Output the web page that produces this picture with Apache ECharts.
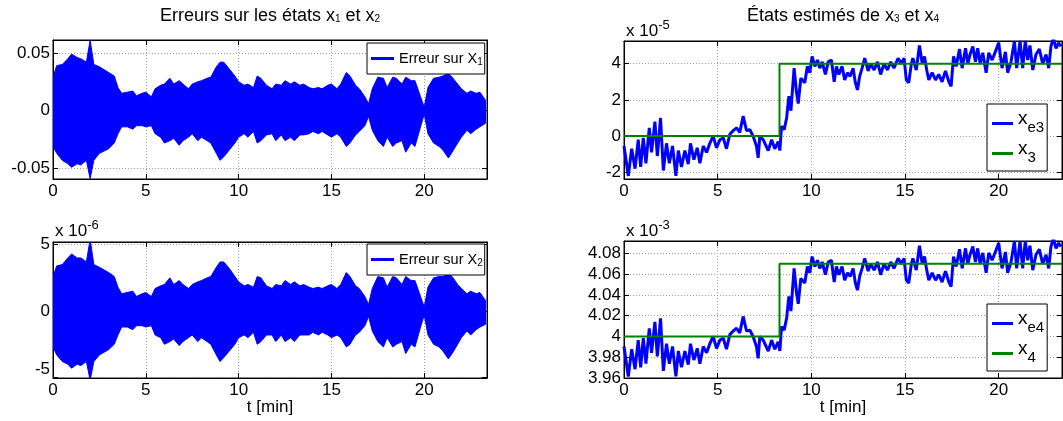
<!DOCTYPE html>
<html><head><meta charset="utf-8">
<script src="https://cdn.jsdelivr.net/npm/echarts@6/dist/echarts.min.js"></script>
<style>html,body{margin:0;padding:0;background:#fff}#c{width:1063px;height:421px}</style>
</head><body><div id="c"></div>
<script>
// ---- data ----
const tErr = [0,0.2,0.5,0.8,1,1.3,1.5,1.8,2,2.2,2.5,3,3.3,3.5,3.7,4,4.3,4.5,4.8,5,5.3,5.5,5.8,6,6.3,6.5,6.8,7,7.3,7.5,7.8,8,8.3,8.5,8.8,9,9.2,9.5,9.8,10,10.3,10.5,10.8,11,11.2,11.5,11.8,12,12.3,12.5,12.8,13,13.3,13.5,13.8,14,14.3,14.5,14.8,15,15.3,15.5,15.8,16,16.3,16.5,16.8,17,17.2,17.5,17.8,18,18.3,18.5,18.8,19,19.3,19.5,19.8,20,20.2,20.5,20.8,21,21.3,21.5,21.8,22,22.3,22.5,22.8,23,23.3];
const err1Upper = [0.029,0.039,0.040,0.045,0.049,0.046,0.045,0.042,0.061,0.040,0.038,0.033,0.030,0.020,0.015,0.016,0.017,0.013,0.015,0.016,0.012,0.019,0.022,0.023,0.028,0.023,0.026,0.023,0.019,0.023,0.025,0.026,0.028,0.029,0.038,0.042,0.042,0.036,0.030,0.025,0.022,0.023,0.020,0.030,0.028,0.022,0.019,0.023,0.022,0.026,0.023,0.025,0.022,0.023,0.020,0.019,0.020,0.019,0.022,0.023,0.019,0.023,0.033,0.030,0.022,0.019,0.012,0.006,0.019,0.029,0.028,0.020,0.029,0.028,0.023,0.029,0.026,0.026,0.012,0.003,0.020,0.028,0.029,0.030,0.032,0.029,0.023,0.019,0.015,0.017,0.015,0.016,0.009];
const err1Lower = [-0.031,-0.037,-0.043,-0.046,-0.049,-0.046,-0.047,-0.043,-0.059,-0.043,-0.037,-0.033,-0.028,-0.020,-0.014,-0.014,-0.016,-0.013,-0.013,-0.014,-0.013,-0.020,-0.023,-0.028,-0.026,-0.024,-0.030,-0.026,-0.023,-0.020,-0.026,-0.023,-0.026,-0.028,-0.037,-0.043,-0.040,-0.034,-0.028,-0.023,-0.020,-0.023,-0.018,-0.028,-0.026,-0.021,-0.020,-0.026,-0.021,-0.026,-0.023,-0.026,-0.021,-0.021,-0.020,-0.018,-0.020,-0.018,-0.021,-0.023,-0.020,-0.023,-0.031,-0.028,-0.021,-0.018,-0.013,-0.005,-0.017,-0.026,-0.031,-0.023,-0.031,-0.028,-0.026,-0.036,-0.028,-0.031,-0.014,-0.003,-0.020,-0.028,-0.031,-0.034,-0.041,-0.036,-0.028,-0.023,-0.017,-0.020,-0.016,-0.014,-0.011];
// units of 1e-6
const err2Upper = [2.6,3.4,3.5,4.0,4.3,4.0,4.0,3.7,5.4,3.5,3.3,2.9,2.6,1.8,1.3,1.4,1.5,1.1,1.3,1.4,1.1,1.7,1.9,2.0,2.5,2.0,2.3,2.0,1.7,2.0,2.2,2.3,2.5,2.6,3.3,3.7,3.7,3.2,2.6,2.2,1.9,2.0,1.8,2.6,2.5,1.9,1.7,2.0,1.9,2.3,2.0,2.2,1.9,2.0,1.8,1.7,1.8,1.7,1.9,2.0,1.7,2.0,2.9,2.6,1.9,1.7,1.1,0.5,1.7,2.6,2.5,1.8,2.6,2.5,2.0,2.6,2.3,2.3,1.1,0.3,1.8,2.5,2.6,2.6,2.8,2.6,2.0,1.7,1.3,1.5,1.3,1.4,0.8];
const err2Lower = [-2.7,-3.3,-3.8,-4.0,-4.3,-4.0,-4.1,-3.8,-5.2,-3.8,-3.3,-2.9,-2.5,-1.8,-1.2,-1.2,-1.4,-1.1,-1.1,-1.2,-1.1,-1.8,-2.0,-2.5,-2.3,-2.1,-2.6,-2.3,-2.0,-1.8,-2.3,-2.0,-2.3,-2.5,-3.3,-3.8,-3.5,-3.0,-2.5,-2.0,-1.8,-2.0,-1.6,-2.5,-2.3,-1.8,-1.8,-2.3,-1.8,-2.3,-2.0,-2.3,-1.8,-1.8,-1.8,-1.6,-1.8,-1.6,-1.8,-2.0,-1.8,-2.0,-2.7,-2.5,-1.8,-1.6,-1.1,-0.4,-1.5,-2.3,-2.7,-2.0,-2.7,-2.5,-2.3,-3.2,-2.5,-2.7,-1.2,-0.3,-1.8,-2.5,-2.7,-3.0,-3.6,-3.2,-2.5,-2.0,-1.5,-1.8,-1.4,-1.2,-1.0];
const tEst = [0.0,0.23,0.41,0.59,0.76,0.89,1.03,1.17,1.35,1.47,1.65,1.78,1.95,2.1,2.27,2.42,2.59,2.77,2.9,3.07,3.25,3.43,3.55,3.73,3.91,4.05,4.23,4.41,4.58,4.76,4.94,5.12,5.3,5.47,5.65,5.83,6.01,6.18,6.36,6.54,6.72,6.89,7.07,7.16,7.25,7.43,7.52,7.70,7.88,8.05,8.23,8.32,8.41,8.55,8.68,8.80,8.91,9.08,9.21,9.30,9.44,9.65,9.79,9.92,10.04,10.19,10.33,10.45,10.58,10.75,10.90,11.07,11.22,11.34,11.47,11.64,11.78,11.93,12.07,12.23,12.35,12.46,12.58,12.71,12.85,13.03,13.17,13.35,13.53,13.70,13.88,14.06,14.24,14.41,14.63,14.81,14.95,15.07,15.20,15.34,15.42,15.60,15.77,15.92,16.04,16.16,16.27,16.45,16.63,16.80,16.98,17.16,17.34,17.46,17.59,17.73,17.91,18.05,18.23,18.35,18.47,18.62,18.76,18.88,19.01,19.15,19.33,19.47,19.65,19.82,20.0,20.18,20.36,20.48,20.66,20.84,20.96,21.14,21.28,21.42,21.55,21.67,21.82,21.99,22.17,22.35,22.53,22.67,22.79,22.92,23.06,23.20,23.33];
// units of 1e-5
const x3Est = [-0.55,-2.2,-0.7,-1.8,-0.2,-1.7,-0.1,-1.5,0.45,-0.9,0.8,-1.1,1.0,-1.9,-0.4,-1.5,-0.55,-2.2,-0.8,-1.7,-0.8,-1.55,-0.4,-1.3,-0.65,-1.5,-0.55,-0.9,-0.4,0,-0.65,-0.2,-0.1,-0.7,0.1,0.3,0.45,0.2,1.1,0.3,0.35,0,-0.55,-1.2,0,-0.2,-0.4,-0.8,-0.2,-0.7,-0.3,-0.8,0.55,0.35,1.0,2.2,1.4,3.75,2.4,1.8,3.2,2.95,3.85,3.5,4.4,3.85,4.2,3.75,4.1,3.4,4.1,4.2,3.0,3.85,3.4,3.85,3.1,3.5,3.3,3.75,2.95,2.55,3.3,3.75,4.3,3.6,4.0,3.65,4.1,3.4,4.0,3.65,4.1,3.75,4.3,4.0,4.3,3.1,2.95,4.0,4.3,3.65,5.0,4.0,4.4,3.65,3.1,3.5,3.1,3.4,3.0,3.6,3.0,2.75,4.4,3.85,4.8,3.75,4.85,4.0,4.5,4.95,4.1,4.85,4.0,4.6,3.5,4.6,4.2,4.65,5.15,3.75,4.65,3.5,4.1,5.25,3.75,5.25,3.75,5.25,4.2,5.0,3.65,4.5,4.8,4.0,4.5,3.75,4.95,5.4,4.85,5.15,4.95];
// units of 1e-3
const x4Est = [3.9904,3.9615,3.9878,3.9685,3.9965,3.9703,3.9983,3.9738,4.0079,3.9843,4.014,3.9808,4.0175,3.9668,3.993,3.9738,3.9904,3.9615,3.986,3.9703,3.986,3.9729,3.993,3.9773,3.9886,3.9738,3.9904,3.9843,3.993,4.0,3.9886,3.9965,3.9983,3.9878,4.0018,4.0053,4.0079,4.0035,4.0193,4.0053,4.0061,4.0,3.9904,3.979,4.0,3.9965,3.993,3.986,3.9965,3.9878,3.9948,3.986,4.0096,4.0061,4.0175,4.0385,4.0245,4.0656,4.042,4.0315,4.056,4.0516,4.0674,4.0613,4.077,4.0674,4.0735,4.0656,4.0718,4.0595,4.0718,4.0735,4.0525,4.0674,4.0595,4.0674,4.0543,4.0613,4.0578,4.0656,4.0516,4.0446,4.0578,4.0656,4.0753,4.063,4.07,4.0639,4.0718,4.0595,4.07,4.0639,4.0718,4.0656,4.0753,4.07,4.0753,4.0543,4.0516,4.07,4.0753,4.0639,4.0875,4.07,4.077,4.0639,4.0543,4.0613,4.0543,4.0595,4.0525,4.063,4.0525,4.0481,4.077,4.0674,4.084,4.0656,4.0849,4.07,4.0788,4.0866,4.0718,4.0849,4.07,4.0805,4.0613,4.0805,4.0735,4.0814,4.0901,4.0656,4.0814,4.0613,4.0718,4.0919,4.0656,4.0919,4.0656,4.0919,4.0735,4.0875,4.0639,4.0788,4.084,4.07,4.0788,4.0656,4.0866,4.0945,4.0849,4.0901,4.0866];
const tStep = [0, 8.3, 23.38];
const x3True = [0, 4, 4];
const x4True = [4.0, 4.07, 4.07];
const xTicks = [0, 5, 10, 15, 20];
const yTicks1 = [-0.05, 0, 0.05];
const yTicks2 = [-5, 0, 5];
const yTicks3 = [-2, 0, 2, 4];
const yTicks4 = [3.96, 3.98, 4.0, 4.02, 4.04, 4.06, 4.08];

// ---- layout / style ----
const FONT = '"Liberation Sans", Arial, sans-serif';
const BLUE = '#0000ff', GREEN = '#008000';
const X_MAX = 23.38;
const grids = [
  {left: 53, top: 40, width: 434, height: 139},
  {left: 53, top: 242, width: 434, height: 136},
  {left: 624, top: 41, width: 438, height: 138},
  {left: 624, top: 241, width: 438, height: 137}
];
const yRanges = [[-0.0592, 0.0612], [-5.04, 5.2], [-2.37, 5.25], [3.96, 4.092]];
const yTickSets = [yTicks1, yTicks2, yTicks3, yTicks4];
const zip = (a, b) => a.map((v, i) => [v, b[i]]);

const xAxes = [], yAxes = [];
const tickStyle = {color: '#000', width: 1};
const gridLine = {show: true, lineStyle: {color: '#9a9a9a', type: [1, 2], width: 1}};
const labelFmt = v => (v === -5 ? '{up|-5}' : String(v));
grids.forEach((g, i) => {
  xAxes.push({type: 'value', gridIndex: i, position: 'bottom', min: 0, max: X_MAX,
    axisLine: {show: true, onZero: false, lineStyle: tickStyle},
    axisTick: {show: true, inside: true, length: 5, customValues: xTicks, lineStyle: tickStyle},
    axisLabel: {show: true, customValues: xTicks, color: '#000', fontSize: 17, fontFamily: FONT, margin: 4},
    splitLine: gridLine});
  xAxes.push({type: 'value', gridIndex: i, position: 'top', min: 0, max: X_MAX,
    axisLine: {show: true, onZero: false, lineStyle: tickStyle},
    axisTick: {show: true, inside: true, length: 5, customValues: xTicks, lineStyle: tickStyle},
    axisLabel: {show: false}, splitLine: {show: false}});
  yAxes.push({type: 'value', gridIndex: i, position: 'left', min: yRanges[i][0], max: yRanges[i][1],
    axisLine: {show: true, onZero: false, lineStyle: tickStyle},
    axisTick: {show: true, inside: true, length: 5, customValues: yTickSets[i], lineStyle: tickStyle},
    axisLabel: {show: true, customValues: yTickSets[i], color: '#000', fontSize: 17, fontFamily: FONT, margin: 3,
      formatter: labelFmt,
      rich: {up: {fontSize: 17, fontFamily: FONT, color: '#000', padding: [0, 0, 16, 0]}}},
    splitLine: gridLine});
  yAxes.push({type: 'value', gridIndex: i, position: 'right', min: yRanges[i][0], max: yRanges[i][1],
    axisLine: {show: true, onZero: false, lineStyle: tickStyle},
    axisTick: {show: true, inside: true, length: 5, customValues: yTickSets[i], lineStyle: tickStyle},
    axisLabel: {show: false}, splitLine: {show: false}});
});

// error signal drawn as the filled band between its upper and lower envelopes
function band(name, gi, up, lo) {
  return {name: name, type: 'custom', xAxisIndex: 2 * gi, yAxisIndex: 2 * gi, color: BLUE, clip: true,
    data: tErr.map((t, i) => [t, up[i], lo[i]]),
    encode: {x: 0, y: [1, 2]},
    renderItem: (params, api) => {
      if (params.dataIndex !== 0) return null;
      const pts = [];
      for (let i = 0; i < tErr.length; i++) pts.push(api.coord([tErr[i], up[i]]));
      for (let i = tErr.length - 1; i >= 0; i--) pts.push(api.coord([tErr[i], lo[i]]));
      return {type: 'polygon', shape: {points: pts}, style: {fill: BLUE, stroke: BLUE, lineWidth: 1}};
    }};
}
const series = [
  band('Erreur sur X1', 0, err1Upper, err1Lower),
  band('Erreur sur X2', 1, err2Upper, err2Lower),
  {name: 'xe3', type: 'line', xAxisIndex: 4, yAxisIndex: 4, symbol: 'none', color: BLUE,
   lineStyle: {color: BLUE, width: 3}, data: zip(tEst, x3Est)},
  {name: 'x3', type: 'line', xAxisIndex: 4, yAxisIndex: 4, symbol: 'none', color: GREEN, step: 'end',
   lineStyle: {color: GREEN, width: 2}, data: zip(tStep, x3True)},
  {name: 'xe4', type: 'line', xAxisIndex: 6, yAxisIndex: 6, symbol: 'none', color: BLUE,
   lineStyle: {color: BLUE, width: 3}, data: zip(tEst, x4Est)},
  {name: 'x4', type: 'line', xAxisIndex: 6, yAxisIndex: 6, symbol: 'none', color: GREEN, step: 'end',
   lineStyle: {color: GREEN, width: 2}, data: zip(tStep, x4True)}
];

const legendText = {
  'Erreur sur X1': 'Erreur sur X{sub|1}', 'Erreur sur X2': 'Erreur sur X{sub|2}',
  'xe3': '{m|x}{s|e3}', 'x3': '{m|x}{s|3}', 'xe4': '{m|x}{s|e4}', 'x4': '{m|x}{s|4}'
};
const legendBox = {backgroundColor: '#fff', borderColor: '#000', borderWidth: 1, borderRadius: 0,
  formatter: n => legendText[n], icon: 'rect', selectedMode: false};
const errLegend = (name, top) => Object.assign({}, legendBox, {
  data: [name], left: 367, top: top, orient: 'horizontal', padding: [8, 2, 7, 4],
  itemWidth: 23, itemHeight: 3,
  textStyle: {fontFamily: FONT, fontSize: 14.5, color: '#000',
    rich: {sub: {fontFamily: FONT, fontSize: 10, color: '#000', padding: [7, 0, 0, 0]}}}
});
const estLegend = (names, top) => Object.assign({}, legendBox, {
  data: names, left: 987, top: top, orient: 'vertical', padding: [5, 3, 6, 5],
  itemWidth: 21, itemHeight: 3, itemGap: 4,
  textStyle: {fontFamily: FONT, fontSize: 17, color: '#000',
    rich: {m: {fontFamily: FONT, fontSize: 19, color: '#000', padding: [0, 0, 10, 0]},
           s: {fontFamily: FONT, fontSize: 15, color: '#000', padding: [8, 0, 0, 0]}}}
});

function txt(x, y, text, size, align, rich) {
  return {type: 'text', x: x, y: y, silent: true,
    style: {text: text, fill: '#000', fontFamily: FONT, fontSize: size, font: size + 'px ' + FONT,
      align: align, textAlign: align, verticalAlign: 'middle', textVerticalAlign: 'middle', rich: rich || {}}};
}
const subRich = {sub: {fontFamily: FONT, fontSize: 10, fill: '#000', padding: [7, 0, 0, 0]}};
const supRich = {sup: {fontFamily: FONT, fontSize: 13, fill: '#000', padding: [0, 0, 12, 0]}};

const option = {
  animation: false,
  backgroundColor: '#fff',
  grid: grids.map(g => Object.assign({show: true, borderColor: '#000', borderWidth: 1, containLabel: false}, g)),
  xAxis: xAxes,
  yAxis: yAxes,
  legend: [
    errLegend('Erreur sur X1', 43),
    errLegend('Erreur sur X2', 244),
    estLegend(['xe3', 'x3'], 104),
    estLegend(['xe4', 'x4'], 304)
  ],
  series: series,
  graphic: [
    txt(270, 16, 'Erreurs sur les états x{sub|1} et x{sub|2}', 18, 'center', subRich),
    txt(843, 16, 'États estimés de x{sub|3} et x{sub|4}', 18, 'center', subRich),
    txt(55, 231, 'x 10{sup|-6}', 17, 'left', supRich),
    txt(626, 31, 'x 10{sup|-5}', 17, 'left', supRich),
    txt(626, 231, 'x 10{sup|-3}', 17, 'left', supRich),
    txt(270, 407, 't [min]', 17, 'center'),
    txt(843, 407, 't [min]', 17, 'center')
  ]
};
const chart = echarts.init(document.getElementById('c'), null, {renderer: 'canvas'});
chart.setOption(option);
</script>
</body></html>
